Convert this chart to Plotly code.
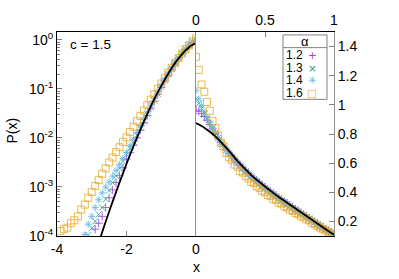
import plotly.graph_objects as go

# ---------------- data: left panel (x < 0), values are log10 P(x) ----------------
x_l16 = [-3.9,-3.8,-3.7,-3.6,-3.5,-3.4,-3.3,-3.2,-3.1,-3.0,-2.9,-2.8,-2.7,-2.6,-2.5,-2.4,-2.3,-2.2,-2.1,-2.0,
         -1.9,-1.8,-1.7,-1.6,-1.5,-1.4,-1.3,-1.2,-1.1,-1.0,-0.9,-0.8,-0.7,-0.6,-0.5,-0.4,-0.3,-0.2,-0.1,0.0]
lg_l16 = [-3.90,-3.86,-3.83,-3.74,-3.68,-3.60,-3.46,-3.36,-3.22,-3.10,-2.98,-2.86,-2.73,-2.62,-2.50,-2.40,-2.29,-2.19,-2.08,-1.99,
          -1.88,-1.77,-1.66,-1.55,-1.44,-1.33,-1.22,-1.11,-1.00,-0.89,-0.78,-0.67,-0.57,-0.47,-0.37,-0.28,-0.19,-0.11,-0.03,0.03]

x_l14 = [-3.2,-3.1,-3.0,-2.9,-2.8,-2.7,-2.6,-2.5,-2.4,-2.3,-2.2,-2.1,-2.0,-1.9,-1.8,-1.7,-1.6,-1.5,-1.4,-1.3,
         -1.2,-1.1,-1.0,-0.9,-0.8,-0.7,-0.6,-0.5,-0.4,-0.3,-0.2,-0.1,0.0]
lg_l14 = [-3.97,-3.76,-3.60,-3.42,-3.26,-3.12,-3.00,-2.90,-2.78,-2.66,-2.54,-2.42,-2.30,-2.16,-2.03,-1.89,-1.75,-1.61,-1.47,-1.33,
          -1.19,-1.05,-0.92,-0.80,-0.68,-0.57,-0.46,-0.36,-0.27,-0.18,-0.10,-0.03,0.01]

x_l13 = [-3.1,-3.0,-2.9,-2.8,-2.7,-2.6,-2.5,-2.4,-2.3,-2.2,-2.1,-2.0,-1.9,-1.8,-1.7,-1.6,-1.5,-1.4,-1.3,-1.2,
         -1.1,-1.0,-0.9,-0.8,-0.7,-0.6,-0.5,-0.4,-0.3,-0.2,-0.1,0.0]
lg_l13 = [-3.98,-3.84,-3.70,-3.56,-3.42,-3.25,-3.07,-2.91,-2.77,-2.62,-2.48,-2.34,-2.21,-2.08,-1.94,-1.80,-1.66,-1.52,-1.38,-1.24,
          -1.10,-0.96,-0.83,-0.71,-0.59,-0.48,-0.38,-0.28,-0.19,-0.11,-0.04,0.00]

x_l12 = [-2.9,-2.8,-2.7,-2.6,-2.5,-2.4,-2.3,-2.2,-2.1,-2.0,-1.9,-1.8,-1.7,-1.6,-1.5,-1.4,-1.3,-1.2,-1.1,-1.0,
         -0.9,-0.8,-0.7,-0.6,-0.5,-0.4,-0.3,-0.2,-0.1,0.0]
lg_l12 = [-3.86,-3.74,-3.60,-3.42,-3.22,-3.06,-2.91,-2.77,-2.61,-2.43,-2.30,-2.15,-2.00,-1.84,-1.69,-1.54,-1.39,-1.25,-1.11,-0.97,
          -0.84,-0.72,-0.60,-0.49,-0.39,-0.29,-0.20,-0.12,-0.06,-0.02]

# theory curve, left panel (log10 P)
x_bl = [-2.75,-2.6,-2.4,-2.2,-2.0,-1.8,-1.6,-1.4,-1.2,-1.0,-0.8,-0.6,-0.4,-0.2,-0.1,0.0]
lg_bl = [-4.03,-3.71,-3.30,-2.91,-2.53,-2.17,-1.83,-1.51,-1.21,-0.94,-0.69,-0.47,-0.29,-0.15,-0.10,-0.07]

# ---------------- data: right panel (x > 0), linear P(x) ----------------
x_r = [0.00,0.02,0.04,0.06,0.08,0.10,0.12,0.14,0.16,0.18,
       0.20,0.22,0.24,0.26,0.28,0.30,0.32,0.34,0.36,0.38,
       0.40,0.42,0.44,0.46,0.48,0.50,0.52,0.54,0.56,0.58,
       0.60,0.62,0.64,0.66,0.68,0.70,0.72,0.74,0.76,0.78,
       0.80,0.82,0.84,0.86,0.88,0.90,0.92,0.94,0.96,0.98,1.00]
r16 = [1.33,1.24,1.14,1.09,1.02,0.96,0.89,0.84,0.79,0.74,
       0.715,0.67,0.64,0.62,0.59,0.575,0.545,0.535,0.51,0.495,
       0.472,0.462,0.44,0.43,0.41,0.40,0.382,0.375,0.355,0.347,
       0.328,0.322,0.303,0.296,0.28,0.272,0.258,0.25,0.236,0.228,
       0.214,0.207,0.19,0.18,0.168,0.157,0.147,0.137,0.127,0.117,0.106]
r14 = [1.10,1.04,0.995,0.955,0.915,0.88,0.845,0.81,0.775,0.745,
       0.715,0.69,0.665,0.645,0.62,0.598,0.578,0.558,0.54,0.52,
       0.503,0.486,0.47,0.455,0.44,0.424,0.41,0.395,0.381,0.367,
       0.353,0.34,0.327,0.314,0.301,0.289,0.276,0.264,0.252,0.24,
       0.227,0.215,0.202,0.19,0.177,0.165,0.152,0.14,0.128,0.117,0.105]
r13 = [1.04,1.01,0.975,0.94,0.905,0.87,0.838,0.805,0.772,0.742,
       0.714,0.69,0.667,0.645,0.624,0.602,0.582,0.563,0.544,0.525,
       0.508,0.491,0.475,0.46,0.444,0.429,0.414,0.40,0.386,0.372,
       0.358,0.345,0.332,0.319,0.306,0.293,0.281,0.268,0.256,0.244,
       0.231,0.219,0.206,0.194,0.181,0.169,0.156,0.144,0.132,0.12,0.108]
r12 = [0.965,0.955,0.94,0.92,0.895,0.865,0.835,0.803,0.772,0.743,
       0.716,0.692,0.669,0.648,0.627,0.606,0.586,0.567,0.548,0.53,
       0.512,0.495,0.479,0.464,0.448,0.433,0.418,0.404,0.39,0.376,
       0.362,0.349,0.336,0.323,0.31,0.297,0.285,0.272,0.26,0.247,
       0.235,0.222,0.21,0.197,0.185,0.172,0.16,0.147,0.135,0.122,0.11]

x_br = [0.0,0.05,0.1,0.15,0.2,0.25,0.3,0.35,0.4,0.45,0.5,0.55,0.6,0.65,0.7,0.75,0.8,0.85,0.9,0.95,1.0]
y_br = [0.875,0.85,0.815,0.775,0.725,0.672,0.615,0.565,0.518,0.478,0.44,0.403,0.368,0.335,0.302,0.27,0.238,0.205,0.172,0.14,0.108]

alphas = ["1.2", "1.3", "1.4", "1.6"]
colors = ["#A23CE0", "#22A57E", "#62B9EB", "#E8A824"]
symbols = ["cross-thin-open", "x-thin-open", "asterisk-open", "square-open"]
msizes = [6, 6, 6, 7]

left_x = [x_l12, x_l13, x_l14, x_l16]
left_lg = [lg_l12, lg_l13, lg_l14, lg_l16]
right_y = [r12, r13, r14, r16]

FONT = "Liberation Sans, Arial, sans-serif"

fig = go.Figure()
for i in range(4):
    fig.add_trace(go.Scatter(
        x=left_x[i], y=[10 ** v for v in left_lg[i]], mode="markers",
        marker=dict(symbol=symbols[i], size=msizes[i], opacity=0.8,
                    color=colors[i], line=dict(width=1, color=colors[i])),
        xaxis="x", yaxis="y", showlegend=False, cliponaxis=True))
    fig.add_trace(go.Scatter(
        x=x_r, y=right_y[i], mode="markers",
        marker=dict(symbol=symbols[i], size=msizes[i], opacity=0.8,
                    color=colors[i], line=dict(width=1, color=colors[i])),
        xaxis="x2", yaxis="y2", showlegend=False, cliponaxis=True))

fig.add_trace(go.Scatter(x=x_bl, y=[10 ** v for v in lg_bl], mode="lines",
                         line=dict(color="black", width=1.8, shape="spline"),
                         xaxis="x", yaxis="y", showlegend=False))
fig.add_trace(go.Scatter(x=x_br, y=y_br, mode="lines",
                         line=dict(color="black", width=1.8, shape="spline"),
                         xaxis="x2", yaxis="y2", showlegend=False))

L, R, T, B = 57, 334, 27, 236
W, H = 399, 279
split = (196 - L) / (R - L)

def px(xp):
    return (xp - L) / (R - L)

def py(yp):
    return (B - yp) / (B - T)

minor_vals = [m * 10 ** e for e in range(-4, 0) for m in range(2, 10)]

fig.update_layout(
    width=W, height=H,
    margin=dict(l=L, r=W - R, t=T, b=H - B, pad=0),
    paper_bgcolor="white", plot_bgcolor="white",
    font=dict(family=FONT, size=14, color="black"),
    showlegend=False,
    xaxis=dict(domain=[0, split], range=[-4, 0], anchor="y",
               tickvals=[-4, -2, 0], ticktext=["-4", "-2", "0"],
               ticks="inside", ticklen=5, tickcolor="#808080", tickwidth=1,
               showline=True, linecolor="black", linewidth=1, mirror=True,
               showgrid=False, zeroline=False, tickfont=dict(size=14)),
    yaxis=dict(type="log", range=[-4, 0.16], domain=[0, 1], anchor="x",
               tickvals=[1e-4, 1e-3, 1e-2, 1e-1, 1],
               ticktext=["10<sup>-4</sup>", "10<sup>-3</sup>", "10<sup>-2</sup>",
                         "10<sup>-1</sup>", "10<sup>0</sup>"],
               ticks="inside", ticklen=5, tickcolor="#808080", tickwidth=1,
               minor=dict(tickmode="array", tickvals=minor_vals, ticks="inside",
                          ticklen=3, tickcolor="#808080", tickwidth=1, showgrid=False),
               showline=True, linecolor="black", linewidth=1, mirror=False,
               showgrid=False, zeroline=False, tickfont=dict(size=14)),
    xaxis2=dict(domain=[split, 1], range=[0, 1], anchor="y2", side="top",
                tickvals=[0, 0.5, 1], ticktext=["0", "0.5", "1"],
                ticks="inside", ticklen=5, tickcolor="#808080", tickwidth=1,
                showline=True, linecolor="black", linewidth=1, mirror=True,
                showgrid=False, zeroline=False, tickfont=dict(size=14)),
    yaxis2=dict(range=[0.1, 1.5], domain=[0, 1], anchor="x2", side="right",
                tickvals=[0.2, 0.4, 0.6, 0.8, 1.0, 1.2, 1.4],
                ticktext=["0.2", "0.4", "0.6", "0.8", "1", "1.2", "1.4"],
                ticks="inside", ticklen=5, tickcolor="#808080", tickwidth=1,
                showline=True, linecolor="#909090", linewidth=1, mirror=True,
                showgrid=False, zeroline=False, tickfont=dict(size=14)),
)

ann = [
    dict(text="c = 1.5", x=px(68), y=py(40), xanchor="left", yanchor="middle", font=dict(size=13.5)),
    dict(text="P(x)", x=px(12), y=py(128), xanchor="center", yanchor="middle", textangle=-90, font=dict(size=14)),
    dict(text="x", x=px(196), y=py(268), xanchor="center", yanchor="middle", font=dict(size=14)),
    dict(text="α", x=px(305), y=py(36), xanchor="center", yanchor="middle", font=dict(size=13), height=12),
]
entry_y = [51, 63.5, 76, 89]
glyphs = ["+", "×", "✳", "□"]
for i in range(4):
    ann.append(dict(text=alphas[i], x=px(284), y=py(entry_y[i]), xanchor="left", yanchor="middle",
                    font=dict(size=12), height=12))
    ann.append(dict(text=glyphs[i], x=px(312), y=py(entry_y[i]), xanchor="center", yanchor="middle",
                    font=dict(size=10.5, color=colors[i], family="DejaVu Sans"), height=12))
for a in ann:
    a.update(xref="paper", yref="paper", showarrow=False)
fig.update_layout(annotations=ann)

fig.update_layout(shapes=[
    dict(type="rect", xref="paper", yref="paper", x0=px(283), x1=px(327), y0=py(96), y1=py(30),
         line=dict(color="#808080", width=1), fillcolor="rgba(0,0,0,0)"),
    dict(type="line", xref="paper", yref="paper", x0=px(283), x1=px(327), y0=py(43), y1=py(43),
         line=dict(color="#808080", width=1)),
])

fig.write_html("out.html", config={"displayModeBar": False},
               post_script="document.body.style.margin='0px';document.body.style.padding='0px';")
